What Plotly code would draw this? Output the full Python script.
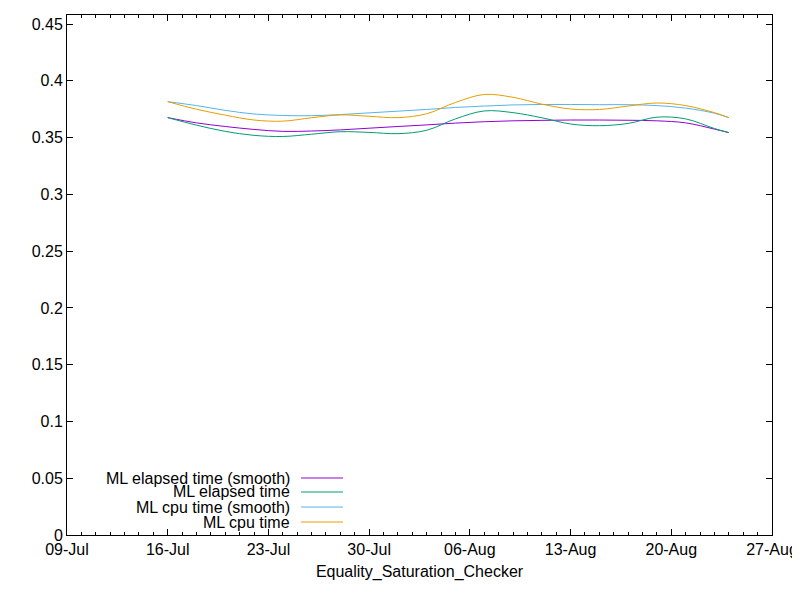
#!/usr/bin/env python

import plotly.graph_objects as go

# Data (dates every 2 days, last point 24-Aug) --------------------------------
DATES = [
    '2023-07-16', '2023-07-18', '2023-07-20', '2023-07-22', '2023-07-24',
    '2023-07-26', '2023-07-28', '2023-07-30', '2023-08-01', '2023-08-03',
    '2023-08-05', '2023-08-07', '2023-08-09', '2023-08-11', '2023-08-13',
    '2023-08-15', '2023-08-17', '2023-08-19', '2023-08-21', '2023-08-23',
    '2023-08-24',
]
elapsed_smooth = [
    0.3676, 0.3630, 0.3598, 0.3572, 0.3555, 0.3558, 0.3568, 0.3583, 0.3598,
    0.3612, 0.3628, 0.3640, 0.3648, 0.3652, 0.3655, 0.3655, 0.3653, 0.3648,
    0.3630, 0.3575, 0.3544,
]
elapsed = [
    0.3676, 0.3610, 0.3555, 0.3520, 0.3510, 0.3530, 0.3552, 0.3546, 0.3535,
    0.3565, 0.3665, 0.3735, 0.3720, 0.3675, 0.3620, 0.3605, 0.3625, 0.3680,
    0.3665, 0.3580, 0.3544,
]
cpu_smooth = [
    0.3817, 0.3782, 0.3740, 0.3708, 0.3695, 0.3693, 0.3703, 0.3718, 0.3733,
    0.3748, 0.3766, 0.3778, 0.3788, 0.3792, 0.3792, 0.3790, 0.3790, 0.3782,
    0.3760, 0.3715, 0.3676,
]
cpu = [
    0.3817, 0.3750, 0.3698, 0.3655, 0.3645, 0.3675, 0.3700, 0.3688, 0.3676,
    0.3710, 0.3810, 0.3880, 0.3855, 0.3795, 0.3752, 0.3748, 0.3778, 0.3805,
    0.3782, 0.3720, 0.3676,
]
NAMES = ['ML elapsed time (smooth)', 'ML elapsed time',
         'ML cpu time (smooth)', 'ML cpu time']
COLORS = ['#9400D3', '#009E73', '#56B4E9', '#E69F00']
Y_TICKS = [0, 0.05, 0.1, 0.15, 0.2, 0.25, 0.3, 0.35, 0.4, 0.45]
FONT = dict(family='Liberation Sans, Arial, sans-serif', size=16, color='black')

###############################################################################
# Figure
###############################################################################
fig = go.Figure()
for (name, ys, col) in zip(NAMES, [elapsed_smooth, elapsed, cpu_smooth, cpu], COLORS):
    fig.add_trace(go.Scatter(
        x=DATES, y=ys, name=name, mode='lines',
        line=dict(color=col, width=1, shape='spline', smoothing=1.0),
        showlegend=False
    ))

# gnuplot-style key: right-justified text, line sample on the right ----------
key_y = [0.1096, 0.0827, 0.0538, 0.025]
for (name, col, ky) in zip(NAMES, COLORS, key_y):
    fig.add_annotation(
        x=0.319, y=ky, xref='paper', yref='paper', text=name,
        showarrow=False, xanchor='right', yanchor='middle', font=FONT
    )
    fig.add_shape(
        type='line', xref='paper', yref='paper',
        x0=0.332, x1=0.3915, y0=ky, y1=ky, line=dict(color=col, width=1)
    )

# page body has an 8px margin; keep the page from scrolling in 800x600
fig.update_layout(
    width=792, height=584,
    margin=dict(l=59, r=28, t=7, b=57),
    plot_bgcolor='white', paper_bgcolor='white',
    font=FONT,
    xaxis=dict(
        type='date', range=['2023-07-09', '2023-08-27'],
        tickformat='%d-%b', dtick=7 * 86400000, tick0='2023-07-09',
        ticks='inside', ticklen=6, tickcolor='black',
        minor=dict(dtick=86400000, ticks='inside', ticklen=3, tickcolor='black'),
        showline=True, linecolor='black', linewidth=1, mirror='allticks',
        showgrid=False, zeroline=False, automargin=False,
        ticklabeloverflow='allow',
        title=dict(text='Equality_Saturation_Checker', standoff=8, font=FONT),
    ),
    yaxis=dict(
        range=[0, 0.458], tickvals=Y_TICKS,
        ticks='inside', ticklen=6, tickcolor='black',
        showline=True, linecolor='black', linewidth=1, mirror='allticks',
        showgrid=False, zeroline=False, automargin=False,
    ),
)
fig.write_html('out.html')
